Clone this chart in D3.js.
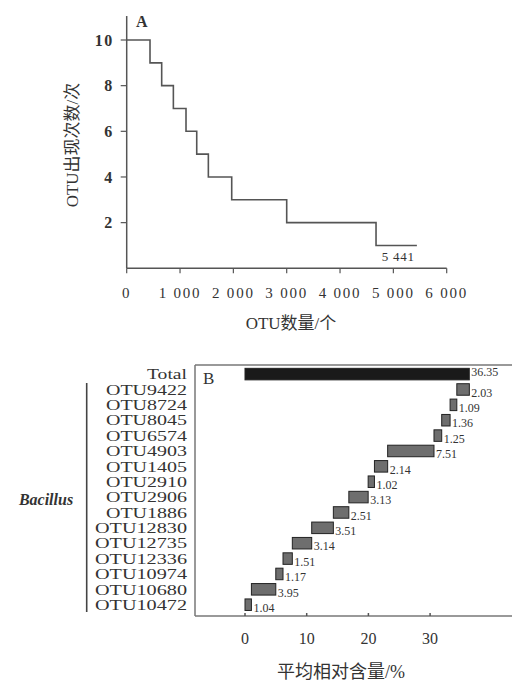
<!DOCTYPE html>
<html><head><meta charset="utf-8">
<script src="https://cdn.jsdelivr.net/npm/d3@7"></script>
<style>
body{margin:0;background:#fff;}
text{font-family:"Liberation Serif","Noto Sans CJK SC",serif;fill:#333;}
</style></head>
<body><svg id="c" width="516" height="684"></svg>
<script>
// ---- Panel A data: step curve (OTU count vs. occurrence count)
const stepX = [0, 437, 656, 875, 1112, 1313, 1531, 1969, 3000, 4675, 5441];
const stepY = [10, 9, 8, 7, 6, 5, 4, 3, 2, 1];
const aXTicks = [0, 1000, 2000, 3000, 4000, 5000, 6000];
const aXTickLabels = ["0", "1 000", "2 000", "3 000", "4 000", "5 000", "6 000"];
const aYTicks = [2, 4, 6, 8, 10];
const endLabel = "5 441";

// ---- Panel B data: waterfall of Bacillus OTUs
const otuNames = ["Total","OTU9422","OTU8724","OTU8045","OTU6574","OTU4903","OTU1405","OTU2910","OTU2906","OTU1886","OTU12830","OTU12735","OTU12336","OTU10974","OTU10680","OTU10472"];
const otuValues = [36.35, 2.03, 1.09, 1.36, 1.25, 7.51, 2.14, 1.02, 3.13, 2.51, 3.51, 3.14, 1.51, 1.17, 3.95, 1.04];
const otuLabels = ["36.35","2.03","1.09","1.36","1.25","7.51","2.14","1.02","3.13","2.51","3.51","3.14","1.51","1.17","3.95","1.04"];
const bTicks = [0, 10, 20, 30];

const svg = d3.select("#c");
const lineCol = "#555";

// ================= Panel A =================
const ax = d3.scaleLinear().domain([0, 6000]).range([126.7, 446.7]);
const ay = d3.scaleLinear().domain([0, 10]).range([268.3, 40]);
const gA = svg.append("g");

gA.append("line").attr("x1", ax(0)).attr("x2", ax(0)).attr("y1", ay(11.05)).attr("y2", ay(0)).attr("stroke", lineCol).attr("stroke-width", 1.5);
gA.append("line").attr("x1", ax(0)).attr("x2", ax(6000)).attr("y1", ay(0)).attr("y2", ay(0)).attr("stroke", lineCol).attr("stroke-width", 1.5);
gA.selectAll(".yt").data(aYTicks).enter().append("line")
  .attr("x1", ax(0) - 6).attr("x2", ax(0)).attr("y1", d => ay(d)).attr("y2", d => ay(d)).attr("stroke", lineCol).attr("stroke-width", 1.2);
gA.selectAll(".ytl").data(aYTicks).enter().append("text")
  .attr("x", ax(0) - 13).attr("y", d => ay(d)).attr("dy", "0.35em").attr("text-anchor", "end")
  .attr("font-size", 16).attr("font-weight", "bold").attr("letter-spacing", 1.5).text(d => d);
gA.selectAll(".xt").data(aXTicks).enter().append("line")
  .attr("x1", d => ax(d)).attr("x2", d => ax(d)).attr("y1", ay(0)).attr("y2", ay(0) + 5).attr("stroke", lineCol).attr("stroke-width", 1.2);
gA.selectAll(".xtl").data(aXTicks).enter().append("text")
  .attr("x", d => ax(d)).attr("y", 298).attr("text-anchor", "middle")
  .attr("font-size", 15).attr("letter-spacing", 1.8).text((d, i) => aXTickLabels[i]);

const pts = [];
stepY.forEach((v, i) => { pts.push([stepX[i], v]); pts.push([stepX[i + 1], v]); });
gA.append("path").datum(pts)
  .attr("d", d3.line().x(d => ax(d[0])).y(d => ay(d[1])))
  .attr("fill", "none").attr("stroke", lineCol).attr("stroke-width", 1.6);
gA.append("text").attr("x", ax(5441) - 2).attr("y", ay(1) + 16).attr("text-anchor", "end")
  .attr("font-size", 13).attr("letter-spacing", 0.8).text(endLabel);

gA.append("text").attr("x", 136).attr("y", 27).attr("font-size", 16).attr("font-weight", "bold").text("A");
gA.append("text").attr("transform", "translate(78,145) rotate(-90)").attr("text-anchor", "middle")
  .attr("font-size", 17).attr("fill", "#444").text("OTU出现次数/次");
gA.append("text").attr("x", 291).attr("y", 329).attr("text-anchor", "middle")
  .attr("font-size", 17).attr("fill", "#444").text("OTU数量/个");

// ================= Panel B =================
const bx = d3.scaleLinear().domain([0, 10]).range([245, 306.7]);
const by = d3.scaleBand().domain(otuNames).range([366.8, 612]).paddingInner(0.25).paddingOuter(0.1);
const gB = svg.append("g");

const starts = otuValues.map(() => 0);
let acc = 0;
for (let i = otuNames.length - 1; i >= 1; i--) { starts[i] = acc; acc += otuValues[i]; }
starts[0] = 0;

gB.append("line").attr("x1", 195).attr("x2", 512).attr("y1", 365).attr("y2", 365).attr("stroke", "#777").attr("stroke-width", 1.5);
gB.append("line").attr("x1", 195).attr("x2", 195).attr("y1", 365).attr("y2", 616).attr("stroke", "#777").attr("stroke-width", 1.5);
gB.append("line").attr("x1", 195).attr("x2", 512).attr("y1", 616).attr("y2", 616).attr("stroke", "#777").attr("stroke-width", 1.5);
gB.selectAll(".bt").data(bTicks).enter().append("line")
  .attr("x1", d => bx(d)).attr("x2", d => bx(d)).attr("y1", 613).attr("y2", 616).attr("stroke", "#555").attr("stroke-width", 1.5);
gB.selectAll(".btl").data(bTicks).enter().append("text")
  .attr("x", d => bx(d)).attr("y", 644).attr("text-anchor", "middle")
  .attr("font-size", 16).attr("fill", "#444").text(d => d);
gB.append("text").attr("x", 341).attr("y", 678).attr("text-anchor", "middle")
  .attr("font-size", 18).attr("fill", "#444").text("平均相对含量/%");
gB.append("text").attr("x", 203).attr("y", 384).attr("font-size", 17).text("B");

gB.selectAll(".bar").data(otuNames).enter().append("rect")
  .attr("x", (d, i) => bx(starts[i]))
  .attr("y", d => by(d))
  .attr("width", (d, i) => bx(starts[i] + otuValues[i]) - bx(starts[i]))
  .attr("height", by.bandwidth())
  .attr("fill", (d, i) => i === 0 ? "#1a1a1a" : "#6e6e6e")
  .attr("stroke", "#222").attr("stroke-width", 1);
gB.selectAll(".vl").data(otuNames).enter().append("text")
  .attr("x", (d, i) => bx(starts[i] + otuValues[i]) + 2)
  .attr("y", (d, i) => by(d) + by.bandwidth() / 2 + (i === 0 ? -2 : 3))
  .attr("dy", "0.35em").attr("font-size", 12).attr("fill", "#444")
  .text((d, i) => otuLabels[i]);

// category labels
gB.selectAll(".cl").data(otuNames).enter().append("text")
  .attr("x", 187).attr("y", d => by(d) + by.bandwidth() / 2).attr("dy", "0.36em")
  .attr("text-anchor", "end").attr("font-size", 14.5)
  .attr("textLength", (d, i) => i === 0 ? 40 : (d.length === 8 ? 92 : 81))
  .attr("lengthAdjust", "spacingAndGlyphs")
  .text(d => d);

gB.append("line").attr("x1", 86.7).attr("x2", 86.7).attr("y1", 383).attr("y2", 612).attr("stroke", "#444").attr("stroke-width", 1.6);
gB.append("text").attr("x", 46).attr("y", 499).attr("dy", "0.35em").attr("text-anchor", "middle")
  .attr("font-size", 16).attr("font-style", "italic").attr("font-weight", "bold").attr("fill", "#555")
  .text("Bacillus");
</script></body></html>
